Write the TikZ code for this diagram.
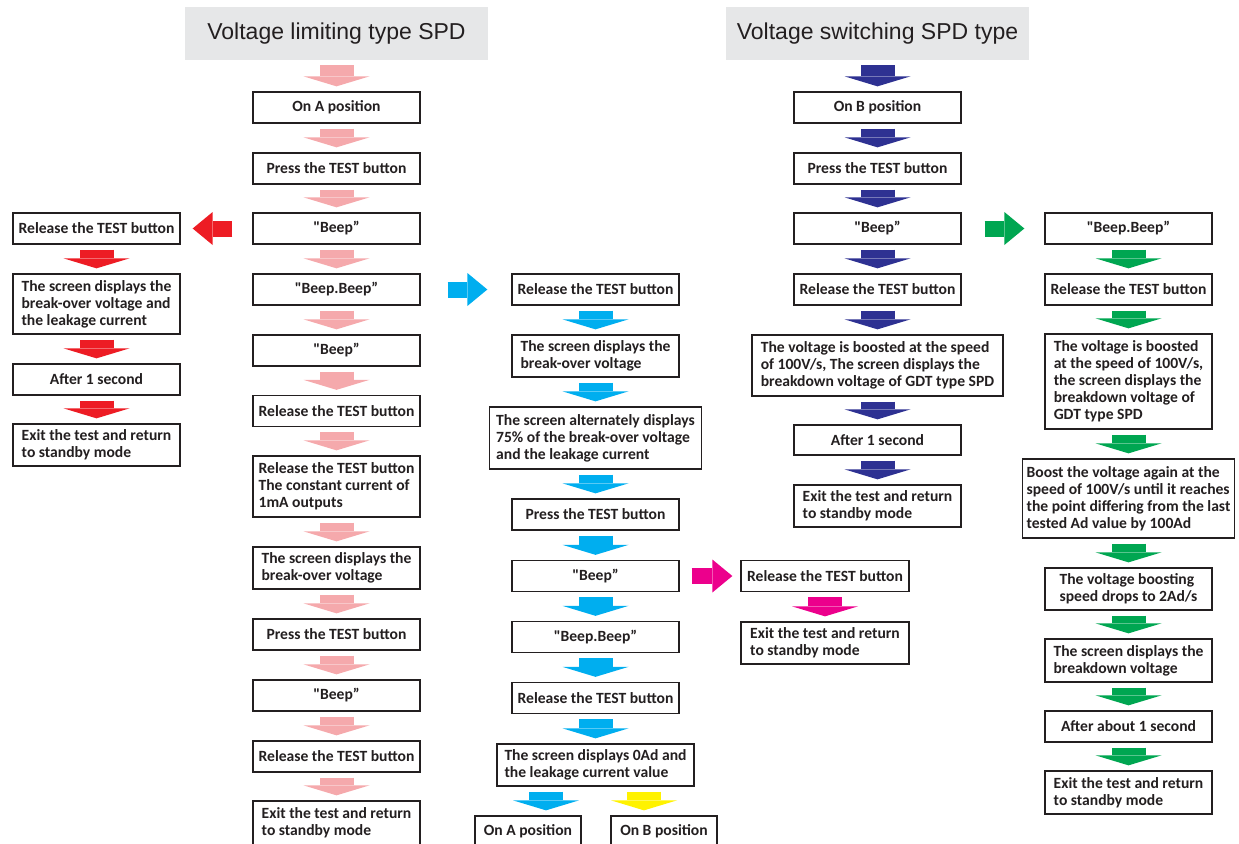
\documentclass[tikz,border=0pt]{standalone}
\usepackage{fontspec}
\setmainfont{Carlito}[Ligatures=TeXOff]
\newfontfamily\headfont{Liberation Sans}
\usetikzlibrary{arrows.meta}

\definecolor{boxc}{HTML}{231F20}
\definecolor{headc}{HTML}{E6E7E8}
\definecolor{pinkc}{HTML}{F5A9AC}
\definecolor{redc}{HTML}{ED1C24}
\definecolor{cyanc}{HTML}{00AEEF}
\definecolor{bluec}{HTML}{2E3192}
\definecolor{greenc}{HTML}{00A651}
\definecolor{magc}{HTML}{EC008C}
\definecolor{yelc}{HTML}{FFF200}

\tikzset{
  stepbox/.style={draw=boxc,line width=1.3pt,fill=white,inner sep=0pt,minimum width=167pt,minimum height=31pt,align=left,text=boxc,font=\bfseries\fontsize{15.6}{17}\selectfont},
  headbox/.style={fill=headc,inner sep=0pt,minimum width=303pt,minimum height=53pt,text=boxc,font=\headfont\fontsize{23}{27}\selectfont},
  dnarrow/.style={line width=34pt,-{Triangle[width=66pt,length=10pt,line width=0pt]},shorten <=5pt,shorten >=5pt},
  sidearrow/.style={line width=16pt,-{Triangle[width=33pt,length=20pt,line width=0pt]}}
}

\begin{document}
\begin{tikzpicture}[x=1pt,y=-1pt]
\useasboundingbox (0,0) rectangle (1239,843);

%Voltage limiting
\node (hdrA) at (336.5,33.5) [headbox] {Voltage limiting type SPD};
\node (p1)  at (336.5,107.5) [stepbox] {On A position};
\node (p2)  at (336.5,168.5) [stepbox] {Press the TEST button};
\node (p3)  at (336.5,228.5) [stepbox] {"Beep”};
\node (p4)  at (336.5,289.5) [stepbox] {"Beep.Beep”};
\node (p5)  at (336.5,350.5) [stepbox] {"Beep”};
\node (p6)  at (336.5,411.0) [stepbox] {Release the TEST button};
\node (p7)  at (336.5,486.5) [stepbox,minimum height=61pt] {Release the TEST button\\The constant current of\\1mA outputs};
\node (p8)  at (336.5,568.0) [stepbox,minimum height=42pt] {The screen displays the\\break-over voltage};
\node (p9)  at (336.5,634.5) [stepbox] {Press the TEST button};
\node (p10) at (336.5,695.5) [stepbox] {"Beep”};
\node (p11) at (336.5,756.5) [stepbox] {Release the TEST button};
\node (p12) at (336.5,823.0) [stepbox,minimum height=44pt] {Exit the test and return\\to standby mode};

\draw[dnarrow,pinkc] (hdrA) -- (p1);
\draw[dnarrow,pinkc] (p1) -- (p2);
\draw[dnarrow,pinkc] (p2) -- (p3);
\draw[dnarrow,pinkc] (p3) -- (p4);
\draw[dnarrow,pinkc] (p4) -- (p5);
\draw[dnarrow,pinkc] (p5) -- (p6);
\draw[dnarrow,pinkc] (p6) -- (p7);
\draw[dnarrow,pinkc] (p7) -- (p8);
\draw[dnarrow,pinkc] (p8) -- (p9);
\draw[dnarrow,pinkc] (p9) -- (p10);
\draw[dnarrow,pinkc] (p10) -- (p11);
\draw[dnarrow,pinkc] (p11) -- (p12);

%Release after one Beep
\node (r1) at (96.5,228.5) [stepbox] {Release the TEST button};
\node (r2) at (96.5,304.0) [stepbox,minimum height=60pt] {The screen displays the\\break-over voltage and\\the leakage current};
\node (r3) at (96.5,379.5) [stepbox] {After 1 second};
\node (r4) at (96.5,445.0) [stepbox,minimum height=42pt] {Exit the test and return\\to standby mode};

\draw[sidearrow,redc,shorten <=20pt,shorten >=12pt] (p3) -- (r1);
\draw[dnarrow,redc] (r1) -- (r2);
\draw[dnarrow,redc] (r2) -- (r3);
\draw[dnarrow,redc] (r3) -- (r4);

%Release after Beep.Beep
\node (c1) at (595.5,289.5) [stepbox] {Release the TEST button};
\node (c2) at (595.5,356.0) [stepbox,minimum height=42pt] {The screen displays the\\break-over voltage};
\node (c3) at (595.5,438.0) [stepbox,minimum width=212pt,minimum height=62pt] {The screen alternately displays\\75\% of the break-over voltage\\and the leakage current};
\node (c4) at (595.5,514.5) [stepbox] {Press the TEST button};
\node (c5) at (595.5,576.0) [stepbox] {"Beep”};
\node (c6) at (595.5,637.0) [stepbox] {"Beep.Beep”};
\node (c7) at (595.5,698.0) [stepbox] {Release the TEST button};
\node (c8) at (595.5,765.0) [stepbox,minimum width=197pt,minimum height=42pt] {The screen displays 0Ad and\\the leakage current value};
\node (c9) at (528.0,831.0) [stepbox,minimum width=106pt,minimum height=30pt] {On A position};
\node (c10) at (664.0,831.0) [stepbox,minimum width=106pt,minimum height=30pt] {On B position};

\draw[sidearrow,cyanc,shorten <=27pt,shorten >=24pt] (p4) -- (c1);
\draw[dnarrow,cyanc] (c1) -- (c2);
\draw[dnarrow,cyanc] (c2) -- (c3);
\draw[dnarrow,cyanc] (c3) -- (c4);
\draw[dnarrow,cyanc] (c4) -- (c5);
\draw[dnarrow,cyanc] (c5) -- (c6);
\draw[dnarrow,cyanc] (c6) -- (c7);
\draw[dnarrow,cyanc] (c7) -- (c8);
\draw[dnarrow,cyanc] ([xshift=-49.5pt]c8.south) -- ([xshift=18pt]c9.north);
\draw[dnarrow,yelc] ([xshift=48.5pt]c8.south) -- ([xshift=-20pt]c10.north);

%Release after second Beep
\node (m1) at (825,576.0) [stepbox,minimum width=168pt] {Release the TEST button};
\node (m2) at (825,643.0) [stepbox,minimum width=168pt,minimum height=42pt] {Exit the test and return\\to standby mode};

\draw[sidearrow,magc,shorten <=12pt,shorten >=8pt] (c5) -- (m1);
\draw[dnarrow,magc] (m1) -- (m2);

%Voltage switching
\node (hdrB) at (877.5,33.5) [headbox] {Voltage switching SPD type};
\node (b1) at (877.5,107.5) [stepbox] {On B position};
\node (b2) at (877.5,168.5) [stepbox] {Press the TEST button};
\node (b3) at (877.5,228.5) [stepbox] {"Beep”};
\node (b4) at (877.5,289.5) [stepbox] {Release the TEST button};
\node (b5) at (877.5,365.5) [stepbox,minimum width=251pt,minimum height=61pt] {The voltage is boosted at the speed\\of 100V/s, The screen displays the\\breakdown voltage of GDT type SPD};
\node (b6) at (877.5,440.0) [stepbox,minimum height=30pt] {After 1 second};
\node (b7) at (877.5,506.0) [stepbox,minimum height=42pt] {Exit the test and return\\to standby mode};

\draw[dnarrow,bluec] (hdrB) -- (b1);
\draw[dnarrow,bluec] (b1) -- (b2);
\draw[dnarrow,bluec] (b2) -- (b3);
\draw[dnarrow,bluec] (b3) -- (b4);
\draw[dnarrow,bluec] (b4) -- (b5);
\draw[dnarrow,bluec] (b5) -- (b6);
\draw[dnarrow,bluec] (b6) -- (b7);

%Beep.Beep on B
\node (g1) at (1128.5,228.5) [stepbox] {"Beep.Beep”};
\node (g2) at (1128.5,289.5) [stepbox] {Release the TEST button};
\node (g3) at (1128.5,381.5) [stepbox,minimum height=95pt] {The voltage is boosted\\at the speed of 100V/s,\\the screen displays the\\breakdown voltage of\\GDT type SPD};
\node (g4) at (1128.5,498.5) [stepbox,minimum width=212pt,minimum height=79pt] {Boost the voltage again at the\\speed of 100V/s until it reaches\\the point differing from the last\\tested Ad value by 100Ad};
\node (g5) at (1128.5,589.0) [stepbox,minimum height=42pt] {The voltage boosting\\speed drops to 2Ad/s};
\node (g6) at (1128.5,660.5) [stepbox,minimum height=43pt] {The screen displays the\\breakdown voltage};
\node (g7) at (1128.5,726.5) [stepbox] {After about 1 second};
\node (g8) at (1128.5,792.5) [stepbox,minimum height=43pt] {Exit the test and return\\to standby mode};

\draw[sidearrow,greenc,shorten <=23pt,shorten >=20pt] (b3) -- (g1);
\draw[dnarrow,greenc] (g1) -- (g2);
\draw[dnarrow,greenc] (g2) -- (g3);
\draw[dnarrow,greenc] (g3) -- (g4);
\draw[dnarrow,greenc] (g4) -- (g5);
\draw[dnarrow,greenc] (g5) -- (g6);
\draw[dnarrow,greenc] (g6) -- (g7);
\draw[dnarrow,greenc] (g7) -- (g8);

\end{tikzpicture}
\end{document}
